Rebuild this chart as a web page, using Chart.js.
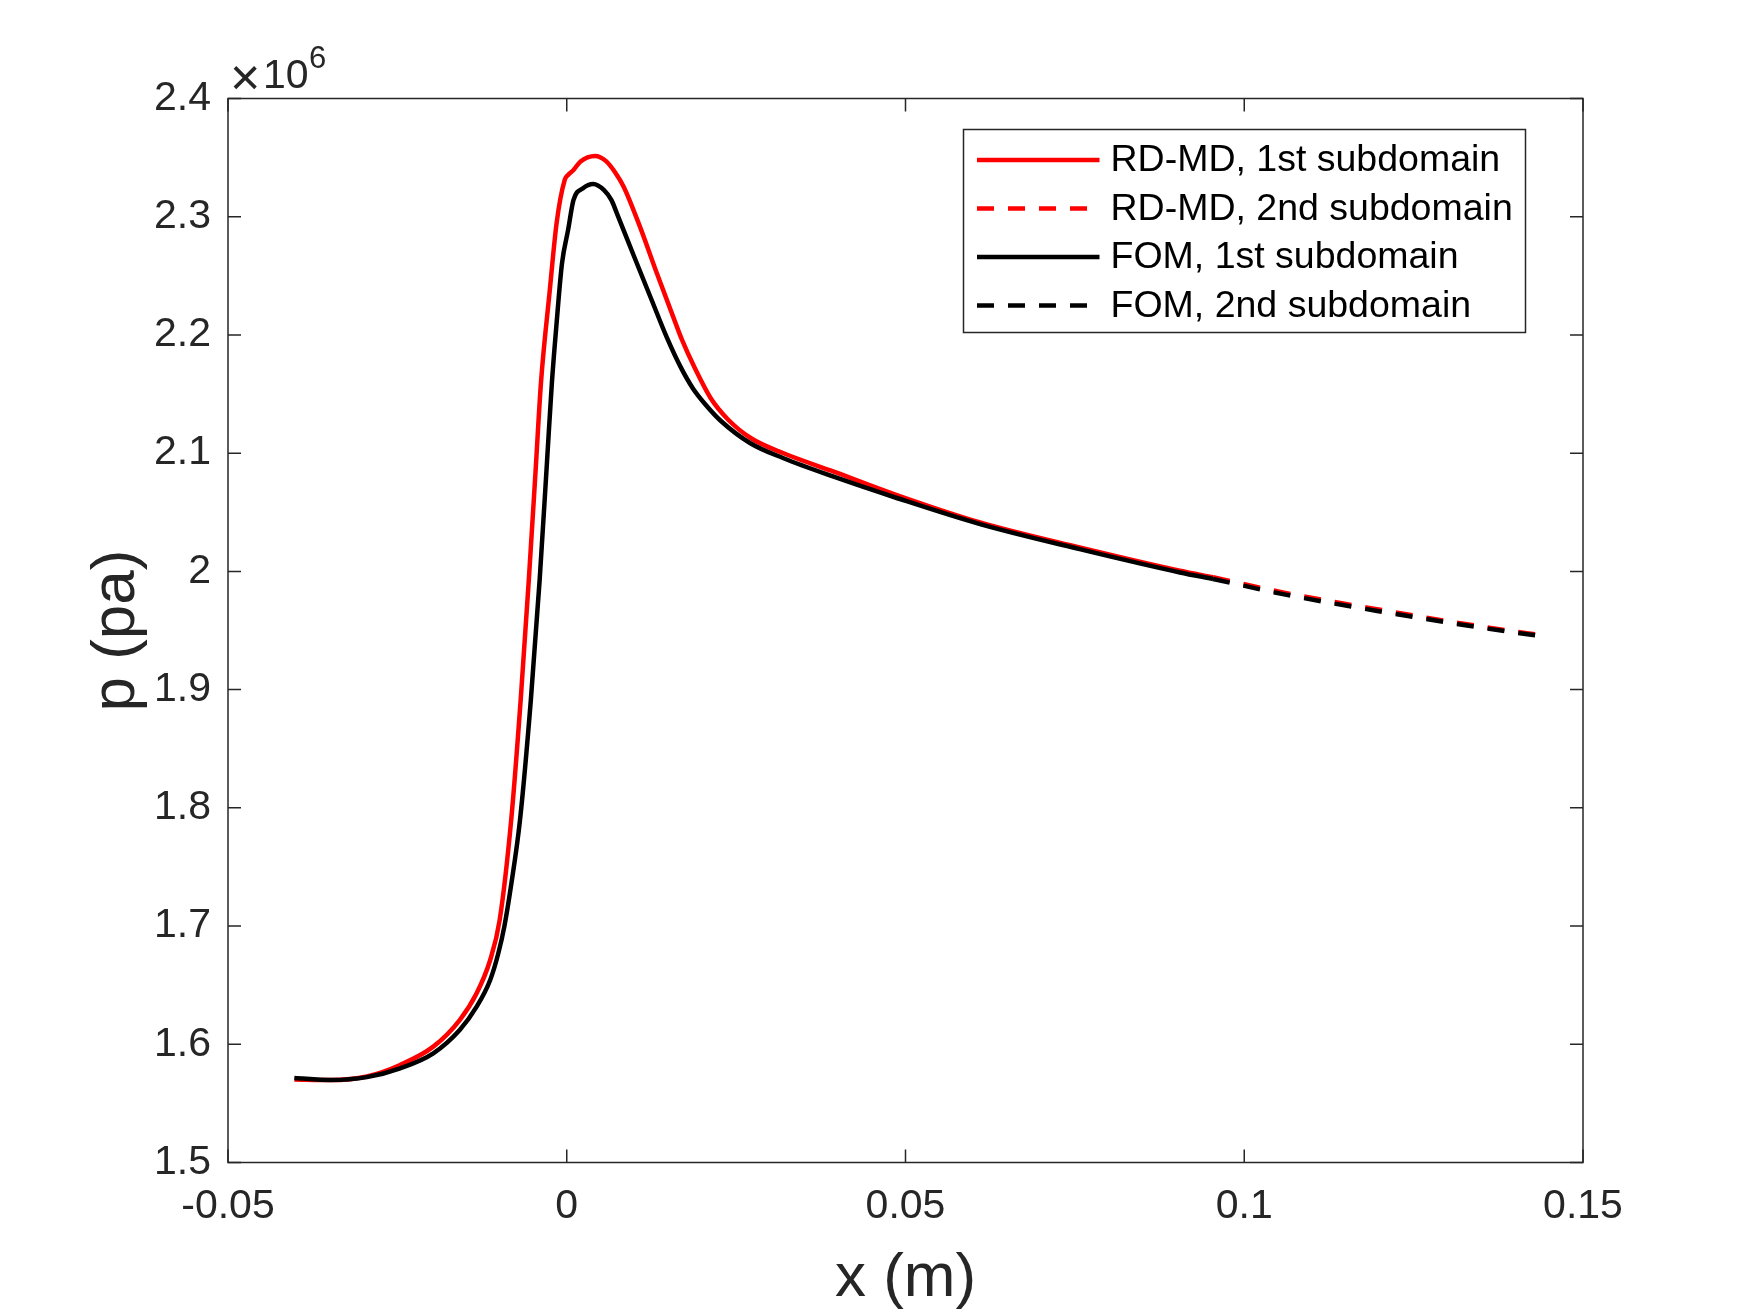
<!DOCTYPE html>
<html>

<head>
    <meta charset="utf-8">
    <title>p (pa) vs x (m)</title>
    <script src="https://cdn.jsdelivr.net/npm/chart.js@4.4.0/dist/chart.umd.min.js"></script>
    <style>
    html,
    body {
        margin: 0;
        padding: 0;
        background: #fff;
    }

    canvas {
        display: block;
    }
    </style>
</head>

<body>
    <canvas id="chart" width="1750" height="1313"></canvas>
    <script>
    // pressure values are in units of 10^6 Pa (axis shows x10^6)
    const xRd1 = [-0.0402, -0.0349, -0.0295, -0.0246, -0.0197, -0.0158, -0.0133, -0.0113, -0.0099,
        -0.0082, -0.0068, -0.0056, -0.0046, -0.0038, -0.0025, -0.0015, -0.0003, 0.0002, 0.0010,
        0.0020, 0.0042, 0.0058, 0.0072, 0.0084, 0.0108, 0.0133, 0.0157, 0.0170, 0.0189,
        0.0213, 0.0238, 0.0272, 0.0320, 0.0394, 0.0485, 0.0610, 0.0757, 0.0905, 0.0954];
    const pRd1 = [1.5703, 1.5698, 1.5728, 1.5825, 1.5980, 1.6205, 1.6431, 1.6713, 1.7051,
        1.7897, 1.8912, 1.9927, 2.0850, 2.1600, 2.2380, 2.2945, 2.3311, 2.3353, 2.3395,
        2.3466, 2.3514, 2.3470, 2.3370, 2.3254, 2.2916, 2.2522, 2.2155, 2.1960, 2.1720,
        2.1460, 2.1285, 2.1126, 2.0999, 2.0844, 2.0650, 2.0414, 2.0202, 2.0005, 1.9950];

    const xRd2 = [0.0954, 0.1057, 0.1204, 0.1352, 0.1448];
    const pRd2 = [1.9950, 1.9822, 1.9672, 1.9532, 1.9452];

    const xFom1 = [-0.0402, -0.0349, -0.0295, -0.0246, -0.0197, -0.0158, -0.0133, -0.0113, -0.0101, -0.0092,
        -0.0082, -0.0069, -0.0053, -0.0040, -0.0029, -0.0022, -0.0015, -0.0007, 0.0002, 0.0010,
        0.0024, 0.0039, 0.0055, 0.0066, 0.0074, 0.0100, 0.0125, 0.0148, 0.0168, 0.0186,
        0.0205, 0.0228, 0.0271, 0.0320, 0.0394, 0.0485, 0.0610, 0.0757, 0.0905, 0.0954];
    const pFom1 = [1.5715, 1.5698, 1.5722, 1.5797, 1.5924, 1.6121, 1.6318, 1.6544, 1.6770, 1.7000,
        1.7350, 1.7897, 1.8912, 1.9927, 2.0942, 2.1591, 2.2099, 2.2606, 2.2888, 2.3142,
        2.3241, 2.3277, 2.3225, 2.3140, 2.3029, 2.2655, 2.2300, 2.1975, 2.1730, 2.1550,
        2.1410, 2.1270, 2.1084, 2.0957, 2.0801, 2.0625, 2.0400, 2.0188, 1.9991, 1.9936];

    const xFom2 = [0.0954, 0.1057, 0.1204, 0.1352, 0.1448];
    const pFom2 = [1.9936, 1.9808, 1.9658, 1.9522, 1.9444];

    const seriesLabels = ['RD-MD, 1st subdomain', 'RD-MD, 2nd subdomain', 'FOM, 1st subdomain', 'FOM, 2nd subdomain'];
    const xTicks = [-0.05, 0, 0.05, 0.1, 0.15];
    const yTicks = [1.5, 1.6, 1.7, 1.8, 1.9, 2.0, 2.1, 2.2, 2.3, 2.4];
    const yExponent = '6';

    const axisColor = '#262626';
    const fontFamily = '"Liberation Sans", Arial, Helvetica, sans-serif';
    const dash = [17, 14];

    function points(xs, ps) {
        return xs.map((x, i) => ({ x: x, y: ps[i] }));
    }

    function fmt(v) {
        return String(+v.toFixed(3));
    }

    // MATLAB-style box with inward ticks on all four sides, plus the x10^6 note
    const boxTicks = {
        id: 'boxTicks',
        beforeDatasetsDraw(chart) {
            const { ctx, chartArea: a, scales } = chart;
            const len = 13;
            ctx.save();
            ctx.strokeStyle = axisColor;
            ctx.lineWidth = 1.5;
            ctx.strokeRect(a.left, a.top, a.right - a.left, a.bottom - a.top);
            ctx.beginPath();
            scales.x.ticks.forEach(t => {
                const px = scales.x.getPixelForValue(t.value);
                ctx.moveTo(px, a.bottom);
                ctx.lineTo(px, a.bottom - len);
                ctx.moveTo(px, a.top);
                ctx.lineTo(px, a.top + len);
            });
            scales.y.ticks.forEach(t => {
                const py = scales.y.getPixelForValue(t.value);
                ctx.moveTo(a.left, py);
                ctx.lineTo(a.left + len, py);
                ctx.moveTo(a.right, py);
                ctx.lineTo(a.right - len, py);
            });
            ctx.stroke();

            ctx.fillStyle = axisColor;
            ctx.textAlign = 'left';
            ctx.textBaseline = 'alphabetic';
            ctx.font = '300 52px ' + fontFamily;
            ctx.fillText('\u00d7', a.left + 2, a.top - 4);
            ctx.font = '41px ' + fontFamily;
            ctx.fillText('10', a.left + 35, a.top - 10.5);
            ctx.font = '31px ' + fontFamily;
            ctx.fillText(yExponent, a.left + 81, a.top - 30.5);
            ctx.restore();
        }
    };

    // legend box inside the plot, top right
    const insideLegend = {
        id: 'insideLegend',
        afterDatasetsDraw(chart) {
            const { ctx, chartArea: a } = chart;
            const left = a.right - 619.5;
            const right = a.right - 57.5;
            const top = a.top + 31;
            const bottom = a.top + 234;
            ctx.save();
            ctx.fillStyle = '#fff';
            ctx.fillRect(left, top, right - left, bottom - top);
            ctx.strokeStyle = axisColor;
            ctx.lineWidth = 1.5;
            ctx.strokeRect(left, top, right - left, bottom - top);
            ctx.font = '37.5px ' + fontFamily;
            ctx.textAlign = 'left';
            ctx.textBaseline = 'middle';
            chart.data.datasets.forEach((ds, i) => {
                const cy = top + 30.5 + i * 48.5;
                ctx.beginPath();
                ctx.strokeStyle = ds.borderColor;
                ctx.lineWidth = ds.borderWidth;
                ctx.setLineDash(ds.borderDash || []);
                ctx.moveTo(left + 13.5, cy);
                ctx.lineTo(left + 136, cy);
                ctx.stroke();
                ctx.setLineDash([]);
                ctx.fillStyle = '#000';
                ctx.fillText(ds.label, left + 147, cy + 1);
            });
            ctx.restore();
        }
    };

    const lineBase = {
        borderWidth: 4.5,
        pointRadius: 0,
        fill: false,
        cubicInterpolationMode: 'monotone'
    };

    const options = {
        type: 'line',
        data: {
            datasets: [
                Object.assign({}, lineBase, { label: seriesLabels[0], data: points(xRd1, pRd1), borderColor: '#ff0000', order: 2 }),
                Object.assign({}, lineBase, { label: seriesLabels[1], data: points(xRd2, pRd2), borderColor: '#ff0000', borderDash: dash, order: 2 }),
                Object.assign({}, lineBase, { label: seriesLabels[2], data: points(xFom1, pFom1), borderColor: '#000000', order: 1 }),
                Object.assign({}, lineBase, { label: seriesLabels[3], data: points(xFom2, pFom2), borderColor: '#000000', borderDash: dash, order: 1 })
            ]
        },
        options: {
            responsive: false,
            animation: false,
            devicePixelRatio: 1,
            layout: {
                padding: { top: 98.5, right: 167, bottom: 0, left: 0 }
            },
            plugins: {
                legend: { display: false },
                tooltip: { enabled: false }
            },
            scales: {
                x: {
                    type: 'linear',
                    position: 'bottom',
                    min: -0.05,
                    max: 0.15,
                    afterBuildTicks: s => { s.ticks = xTicks.map(v => ({ value: v })); },
                    afterFit: s => { s.height = 150.5; },
                    grid: { display: false, drawTicks: false },
                    border: { display: false },
                    ticks: {
                        autoSkip: false,
                        maxRotation: 0,
                        padding: 20,
                        color: axisColor,
                        font: { size: 41, family: fontFamily },
                        callback: v => fmt(v)
                    },
                    title: {
                        display: true,
                        text: 'x (m)',
                        color: axisColor,
                        font: { size: 62, family: fontFamily, lineHeight: 1 },
                        padding: { top: 0, bottom: 3.5 }
                    }
                },
                y: {
                    type: 'linear',
                    position: 'left',
                    min: 1.5,
                    max: 2.4,
                    afterBuildTicks: s => { s.ticks = yTicks.map(v => ({ value: v })); },
                    afterFit: s => { s.width = 228; },
                    grid: { display: false, drawTicks: false },
                    border: { display: false },
                    ticks: {
                        autoSkip: false,
                        padding: 17,
                        color: axisColor,
                        font: { size: 41, family: fontFamily },
                        callback: v => fmt(v)
                    },
                    title: {
                        display: true,
                        text: 'p (pa)',
                        color: axisColor,
                        font: { size: 62, family: fontFamily, lineHeight: 1 },
                        padding: { top: 86, bottom: 0 }
                    }
                }
            }
        },
        plugins: [boxTicks, insideLegend]
    };

    const ctx = document.getElementById('chart').getContext('2d');
    window.chart = new Chart(ctx, options);
    </script>
</body>

</html>
